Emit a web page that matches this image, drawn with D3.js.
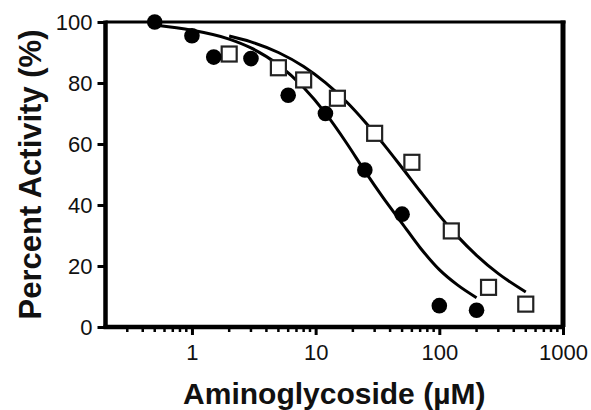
<!DOCTYPE html>
<html>
<head>
<meta charset="utf-8">
<script src="https://cdn.jsdelivr.net/npm/d3@7"></script>
<style>
  body { margin: 0; background: #fff; }
  text { font-family: "Liberation Sans", Arial, sans-serif; fill: #111; }
</style>
</head>
<body>
<div id="target"></div>
<script>
// measured points
const circleX = [0.5, 1, 1.5, 3, 6, 12, 25, 50, 100, 200];
const circleY = [100, 95.5, 88.5, 88, 76, 70, 51.5, 37, 7, 5.5];
const squareX = [2, 5, 8, 15, 30, 60, 125, 250, 500];
const squareY = [89.5, 85, 81, 75, 63.5, 54, 31.5, 13, 7.5];

// fitted curves
const fitCircleX = [0.5, 1, 2, 3, 5, 8, 12, 18, 25, 35, 50, 70, 100, 140, 200];
const fitCircleY = [99, 97.3, 94.4, 91.5, 86, 78.5, 70.1, 60, 51.1, 42.5, 34, 26, 18.8, 13.8, 9.6];
const fitSquareX = [2, 3, 5, 8, 12, 18, 25, 35, 50, 70, 100, 140, 200, 300, 500];
const fitSquareY = [95.4, 93.5, 90, 85.4, 80.1, 73.6, 67.3, 60.2, 52.2, 44.5, 36.6, 29.8, 23.5, 17.5, 11.5];

const xTicks = [1, 10, 100, 1000];
const yTicks = [0, 20, 40, 60, 80, 100];

const width = 591, height = 410;
const plot = {left: 105.5, right: 563, top: 22, bottom: 327};

let svg = d3.select("#target").append("svg")
  .attr("width", width)
  .attr("height", height);

let x = d3.scaleLog().domain([0.2, 1000]).range([plot.left, plot.right]);
let y = d3.scaleLinear().domain([0, 100]).range([plot.bottom, plot.top]);

// frame top + right
svg.append("line").attr("x1", plot.left).attr("x2", plot.right + 2.5).attr("y1", plot.top).attr("y2", plot.top)
  .attr("stroke", "#000").attr("stroke-width", 3);
svg.append("line").attr("x1", plot.right).attr("x2", plot.right).attr("y1", plot.top - 1.5).attr("y2", plot.bottom)
  .attr("stroke", "#000").attr("stroke-width", 5);

// minor x ticks
let minor = [];
[0.1, 1, 10, 100].forEach(function (d) {
  for (let k = 2; k <= 9; k++) { if (d * k >= 0.3) minor.push(d * k); }
});

let xAxis = svg.append("g")
  .attr("transform", "translate(0," + plot.bottom + ")");
xAxis.selectAll(".minor").data(minor).enter().append("line")
  .attr("x1", d => x(d)).attr("x2", d => x(d))
  .attr("y1", 0).attr("y2", 5)
  .attr("stroke", "#000").attr("stroke-width", 2.5);
xAxis.call(d3.axisBottom(x).tickValues(xTicks).tickFormat(d3.format("d")).tickSize(8).tickPadding(9))
  .call(g => g.select(".domain").attr("stroke-width", 4.5).attr("d", "M" + (plot.left - 2) + ",0H" + plot.right))
  .call(g => g.selectAll(".tick line").attr("stroke-width", 3))
  .call(g => g.selectAll(".tick text").attr("font-size", 22).attr("font-family", "Liberation Sans, Arial, sans-serif").attr("fill", "#111"));

let yAxis = svg.append("g")
  .attr("transform", "translate(" + plot.left + ",0)");
yAxis.call(d3.axisLeft(y).tickValues(yTicks).tickSize(8).tickPadding(5))
  .call(g => g.select(".domain").attr("stroke-width", 4.5).attr("d", "M0," + (plot.top - 1.5) + "V" + (plot.bottom + 2)))
  .call(g => g.selectAll(".tick line").attr("stroke-width", 3))
  .call(g => g.selectAll(".tick text").attr("font-size", 22).attr("font-family", "Liberation Sans, Arial, sans-serif").attr("fill", "#111"));

// fit lines
let line = d3.line()
  .x(d => x(d[0]))
  .y(d => y(d[1]))
  .curve(d3.curveMonotoneX);

svg.append("path")
  .datum(d3.zip(fitCircleX, fitCircleY))
  .attr("d", line)
  .attr("fill", "none").attr("stroke", "#000").attr("stroke-width", 3);
svg.append("path")
  .datum(d3.zip(fitSquareX, fitSquareY))
  .attr("d", line)
  .attr("fill", "none").attr("stroke", "#000").attr("stroke-width", 3);

// markers
svg.selectAll(".sq").data(d3.zip(squareX, squareY)).enter().append("rect")
  .attr("x", d => x(d[0]) - 7.5).attr("y", d => y(d[1]) - 7.5)
  .attr("width", 15).attr("height", 15)
  .attr("fill", "#fff").attr("stroke", "#222").attr("stroke-width", 2.2);

svg.selectAll(".dot").data(d3.zip(circleX, circleY)).enter().append("circle")
  .attr("cx", d => x(d[0])).attr("cy", d => y(d[1]))
  .attr("r", 7.8).attr("fill", "#000");

// titles
svg.append("text")
  .attr("x", (plot.left + plot.right) / 2).attr("y", 404)
  .attr("text-anchor", "middle")
  .attr("font-size", 30).attr("font-weight", "bold")
  .text("Aminoglycoside (\u00b5M)");

svg.append("text")
  .attr("transform", "translate(41," + ((plot.top + plot.bottom) / 2) + ") rotate(-90)")
  .attr("text-anchor", "middle")
  .attr("font-size", 31).attr("font-weight", "bold")
  .text("Percent Activity (%)");
</script>
</body>
</html>
